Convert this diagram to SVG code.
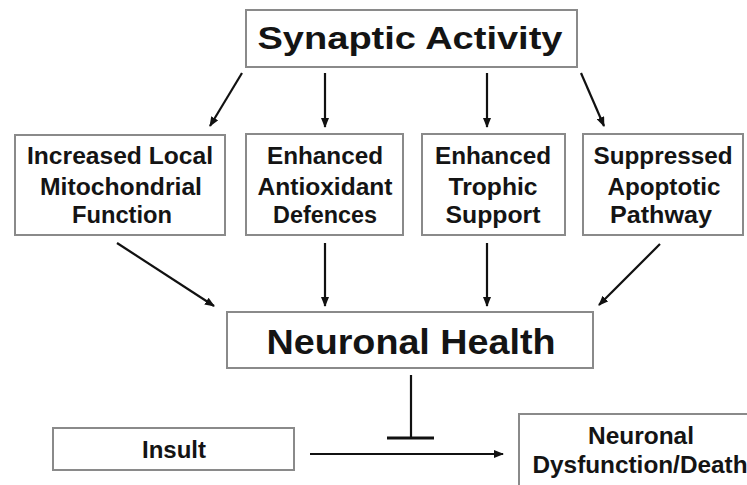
<svg xmlns="http://www.w3.org/2000/svg" width="747" height="485" viewBox="0 0 747 485">
<defs>
<style>
.box{fill:#fff;stroke:#8a8a8a;stroke-width:2}
.t{font-family:"Liberation Sans",Arial,sans-serif;font-weight:bold;fill:#141414;text-anchor:middle}
.s{font-size:23px}
.c{stroke:#111;stroke-width:2.2;fill:none}
</style>
<marker id="ah" viewBox="0 0 10 8" refX="9" refY="4" markerWidth="10" markerHeight="8" markerUnits="userSpaceOnUse" orient="auto">
<path d="M0,0 L10,4 L0,8 z" fill="#111"/>
</marker>
</defs>
<rect width="747" height="485" fill="#fff"/>
<g id="connectors">
<line class="c" x1="242" y1="73" x2="210" y2="126" marker-end="url(#ah)"/>
<line class="c" x1="325" y1="73" x2="325" y2="127" marker-end="url(#ah)"/>
<line class="c" x1="487" y1="73" x2="487" y2="127" marker-end="url(#ah)"/>
<line class="c" x1="581" y1="73" x2="604" y2="126" marker-end="url(#ah)"/>
<line class="c" x1="117" y1="243" x2="214" y2="306" marker-end="url(#ah)"/>
<line class="c" x1="325" y1="243" x2="325" y2="306" marker-end="url(#ah)"/>
<line class="c" x1="487" y1="243" x2="487" y2="306" marker-end="url(#ah)"/>
<line class="c" x1="660" y1="244" x2="599" y2="305" marker-end="url(#ah)"/>
<line class="c" x1="411" y1="375" x2="411" y2="438"/>
<line class="c" x1="387" y1="438" x2="434" y2="438" style="stroke-width:3"/>
<line class="c" x1="310" y1="454" x2="503" y2="454" marker-end="url(#ah)"/>
</g>
<g id="synaptic">
<rect class="box" x="246" y="10" width="331" height="57"/>
<text class="t" x="410" y="49" font-size="31" textLength="305" lengthAdjust="spacingAndGlyphs">Synaptic Activity</text>
</g>
<g id="mito">
<rect class="box" x="15" y="135" width="210" height="100"/>
<text class="t s" x="120" y="164" textLength="186" lengthAdjust="spacingAndGlyphs">Increased Local</text>
<text class="t s" x="121" y="195" textLength="162" lengthAdjust="spacingAndGlyphs">Mitochondrial</text>
<text class="t s" x="122" y="223" textLength="100" lengthAdjust="spacingAndGlyphs">Function</text>
</g>
<g id="antiox">
<rect class="box" x="246" y="134" width="157" height="101"/>
<text class="t s" x="325" y="164" textLength="116" lengthAdjust="spacingAndGlyphs">Enhanced</text>
<text class="t s" x="325" y="195" textLength="135" lengthAdjust="spacingAndGlyphs">Antioxidant</text>
<text class="t s" x="325" y="223" textLength="104" lengthAdjust="spacingAndGlyphs">Defences</text>
</g>
<g id="trophic">
<rect class="box" x="422" y="134" width="143" height="101"/>
<text class="t s" x="493" y="164" textLength="116" lengthAdjust="spacingAndGlyphs">Enhanced</text>
<text class="t s" x="493" y="195" textLength="89" lengthAdjust="spacingAndGlyphs">Trophic</text>
<text class="t s" x="493" y="223" textLength="95" lengthAdjust="spacingAndGlyphs">Support</text>
</g>
<g id="apoptotic">
<rect class="box" x="583" y="134" width="160" height="101"/>
<text class="t s" x="663" y="164" textLength="139" lengthAdjust="spacingAndGlyphs">Suppressed</text>
<text class="t s" x="664" y="195" textLength="113" lengthAdjust="spacingAndGlyphs">Apoptotic</text>
<text class="t s" x="661" y="223" textLength="102" lengthAdjust="spacingAndGlyphs">Pathway</text>
</g>
<g id="health">
<rect class="box" x="227" y="312" width="366" height="56"/>
<text class="t" x="411" y="354" font-size="35" textLength="289" lengthAdjust="spacingAndGlyphs">Neuronal Health</text>
</g>
<g id="insult">
<rect class="box" x="53" y="428" width="241" height="42"/>
<text class="t s" x="174" y="458" textLength="64" lengthAdjust="spacingAndGlyphs">Insult</text>
</g>
<g id="dysfunction">
<rect class="box" x="519" y="414" width="242" height="80"/>
<text class="t s" x="641" y="444" textLength="106" lengthAdjust="spacingAndGlyphs">Neuronal</text>
<text class="t s" x="640" y="473" textLength="215" lengthAdjust="spacingAndGlyphs">Dysfunction/Death</text>
</g>
</svg>
